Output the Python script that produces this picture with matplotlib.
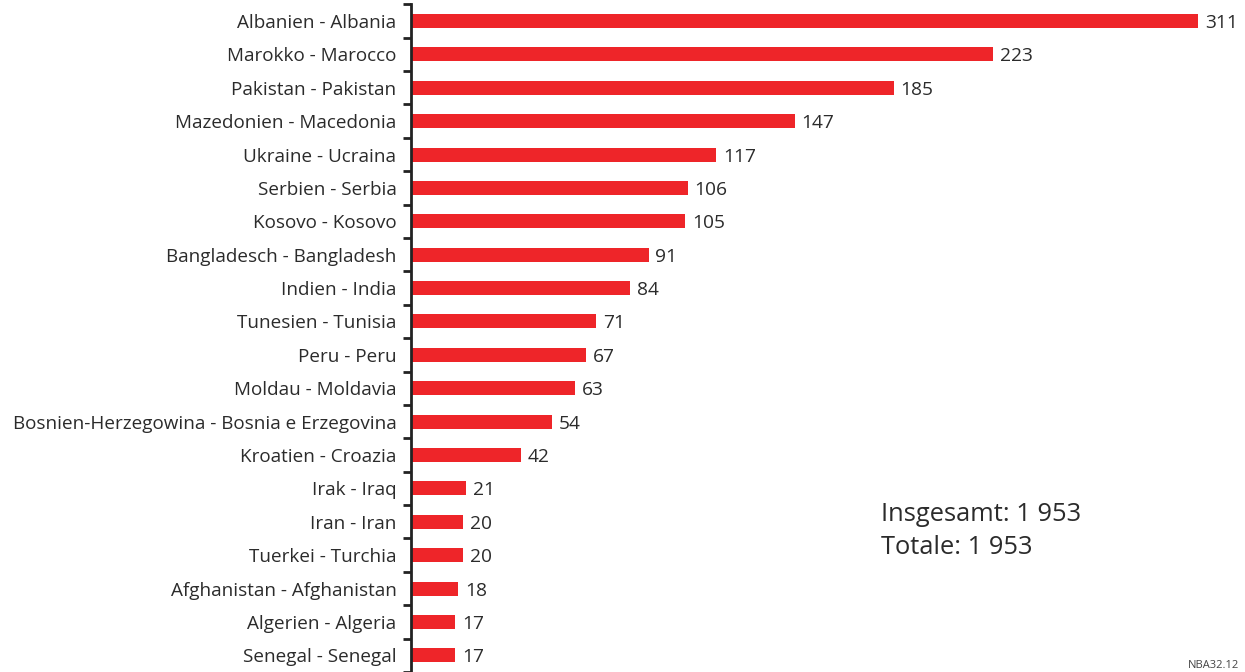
import matplotlib.pyplot as plt
import numpy as np

# Herkunftsländer - paesi di origine
countries = [
    "Albanien - Albania",
    "Marokko - Marocco",
    "Pakistan - Pakistan",
    "Mazedonien - Macedonia",
    "Ukraine - Ucraina",
    "Serbien - Serbia",
    "Kosovo - Kosovo",
    "Bangladesch - Bangladesh",
    "Indien - India",
    "Tunesien - Tunisia",
    "Peru - Peru",
    "Moldau - Moldavia",
    "Bosnien-Herzegowina - Bosnia e Erzegovina",
    "Kroatien - Croazia",
    "Irak - Iraq",
    "Iran - Iran",
    "Tuerkei - Turchia",
    "Afghanistan - Afghanistan",
    "Algerien - Algeria",
    "Senegal - Senegal",
]
values = [311, 223, 185, 147, 117, 106, 105, 91, 84, 71, 67, 63, 54, 42, 21, 20, 20, 18, 17, 17]
total_text = "Insgesamt: 1 953\nTotale: 1 953"

plt.rcParams['font.family'] = ['Open Sans', 'DejaVu Sans']
text_color = '#2b2b2b'
bar_color = '#ee2529'

fig = plt.figure(figsize=(12.45, 6.72), dpi=100)
# axis ends where the longest bar is cut off in the original
ax = fig.add_axes([411 / 1245, 0.0, (1198 - 411) / 1245, 1 - 4.3 / 672])
xmax = (1198 - 411) / 2.61

y = np.arange(len(countries))
ax.barh(y, values, height=0.42, color=bar_color)

for yi, v in zip(y, values):
    ax.text(min(v, xmax) + 2.6, yi, str(v), va='center_baseline', ha='left',
            fontsize=13.8, color=text_color, clip_on=False)

ax.set_xlim(0, xmax)
ax.set_ylim(len(countries) - 0.5, -0.5)

ax.set_yticks(y)
ax.set_yticklabels(countries, fontsize=13.6, color=text_color, va='center_baseline')
ax.tick_params(axis='y', which='major', length=0, pad=10.5)
ax.set_yticks(np.arange(-0.5, len(countries), 1), minor=True)
ax.tick_params(axis='y', which='minor', length=6, width=2, color='#222222', direction='out')

for side in ['top', 'right', 'bottom']:
    ax.spines[side].set_visible(False)
ax.spines['left'].set_linewidth(2)
ax.spines['left'].set_color('#222222')
ax.set_xticks([])

fig.text(881 / 1245, 1 - 531 / 672, total_text, fontsize=18.4, color=text_color,
         ha='left', va='center', linespacing=1.45)
fig.text(1188 / 1245, 1 - 666 / 672, "NBA32.12", fontsize=8, color='#444444',
         ha='left', va='center')

fig.savefig('out.png', dpi=100)
